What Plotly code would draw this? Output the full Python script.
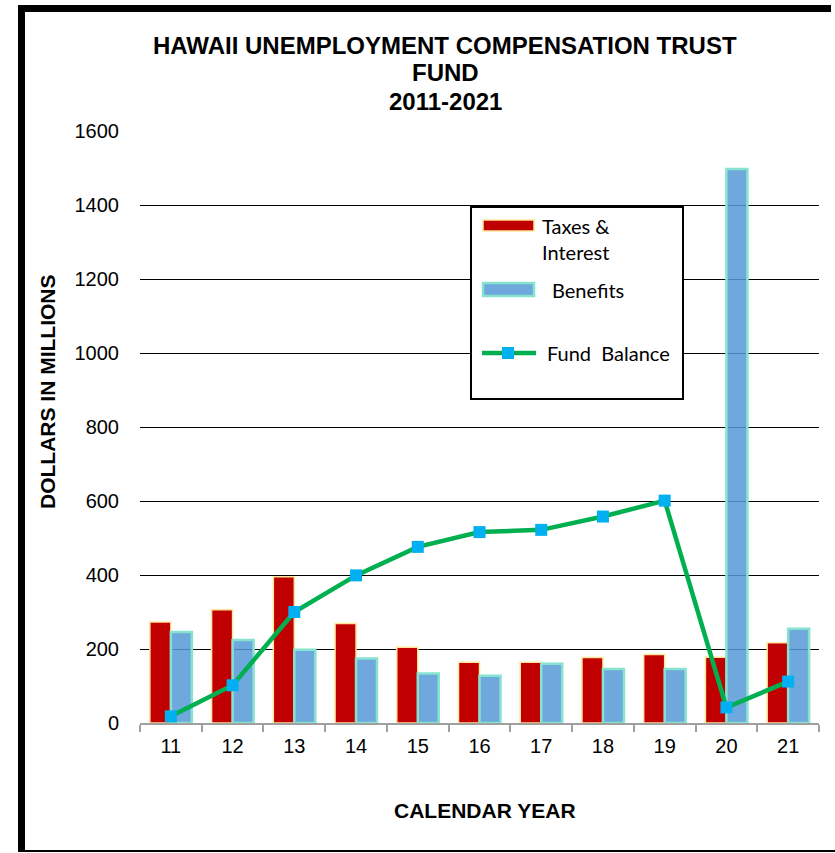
import plotly.graph_objects as go

# Calendar years (two-digit) and values in millions of dollars
years = ["11", "12", "13", "14", "15", "16", "17", "18", "19", "20", "21"]
taxes_interest = [273, 306, 395, 269, 205, 164, 164, 177, 185, 178, 217]
benefits = [246, 224, 198, 174, 134, 128, 160, 146, 146, 1497, 255]
fund_balance = [18, 102, 300, 399, 476, 516, 522, 558, 601, 42, 112]

y_ticks = [0, 200, 400, 600, 800, 1000, 1200, 1400, 1600]

W, H = 835, 853
M_L, M_R, M_T, M_B = 140, 16, 131, 130
PLOT_W = W - M_L - M_R
PLOT_H = H - M_T - M_B

RED = "#C00000"
RED_EDGE = "#FFE699"
BLUE = "rgba(86,153,214,0.85)"
BLUE_EDGE = "#86E3CF"
GREEN = "#00B050"
CYAN = "#00B0F0"


def px(x):
    """Page pixel x -> paper coordinate."""
    return (x - M_L) / PLOT_W


def py(y):
    """Page pixel y -> paper coordinate."""
    return (H - M_B - y) / PLOT_H


fig = go.Figure()

fig.add_trace(go.Bar(
    x=years, y=taxes_interest, name="Taxes & Interest",
    marker=dict(color=RED, line=dict(color=RED_EDGE, width=1.5)),
))
fig.add_trace(go.Bar(
    x=years, y=benefits, name="Benefits",
    marker=dict(color=BLUE, line=dict(color=BLUE_EDGE, width=2.5)),
))
fig.add_trace(go.Scatter(
    x=years, y=fund_balance, name="Fund  Balance", mode="lines+markers",
    line=dict(color=GREEN, width=4.5),
    marker=dict(symbol="square", size=12, color=CYAN),
))

shapes = []
# outer frame
shapes.append(dict(type="line", xref="paper", yref="paper",
                   x0=px(21.5), x1=px(21.5), y0=py(5), y1=py(852),
                   line=dict(color="black", width=7)))
shapes.append(dict(type="line", xref="paper", yref="paper",
                   x0=px(18), x1=px(831), y0=py(8.5), y1=py(8.5),
                   line=dict(color="black", width=7)))
shapes.append(dict(type="line", xref="paper", yref="paper",
                   x0=px(18), x1=px(835), y0=py(851), y1=py(851),
                   line=dict(color="black", width=2)))

# legend box
shapes.append(dict(type="rect", xref="paper", yref="paper",
                   x0=px(471), x1=px(683), y0=py(399), y1=py(207),
                   fillcolor="white", line=dict(color="black", width=2)))
shapes.append(dict(type="rect", xref="paper", yref="paper",
                   x0=px(483), x1=px(534), y0=py(231), y1=py(220),
                   fillcolor=RED, line=dict(color=RED_EDGE, width=1.5)))
shapes.append(dict(type="rect", xref="paper", yref="paper",
                   x0=px(483), x1=px(534), y0=py(296), y1=py(283),
                   fillcolor=BLUE, line=dict(color=BLUE_EDGE, width=2.5)))
shapes.append(dict(type="line", xref="paper", yref="paper",
                   x0=px(482), x1=px(536), y0=py(353), y1=py(353),
                   line=dict(color=GREEN, width=4.5)))
shapes.append(dict(type="rect", xref="paper", yref="paper",
                   x0=px(502), x1=px(514), y0=py(359), y1=py(347),
                   fillcolor=CYAN, line=dict(width=0)))

ann = []
title_lines = ["HAWAII UNEMPLOYMENT COMPENSATION TRUST", "FUND", "2011-2021"]
for line, yc in zip(title_lines, [46, 73, 101]):
    ann.append(dict(text=f"<b>{line}</b>", xref="paper", yref="paper",
                    x=px(445), y=py(yc), xanchor="center", yanchor="middle",
                    showarrow=False,
                    font=dict(family="Liberation Sans, Arial", size=24, color="black")))

ann.append(dict(text="<b>DOLLARS IN MILLIONS</b>", xref="paper", yref="paper",
                x=px(47), y=py(391), xanchor="center", yanchor="middle",
                textangle=-90, showarrow=False,
                font=dict(family="Liberation Sans, Arial", size=21, color="black")))
ann.append(dict(text="<b>CALENDAR YEAR</b>", xref="paper", yref="paper",
                x=px(485), y=py(810), xanchor="center", yanchor="middle",
                showarrow=False,
                font=dict(family="Liberation Sans, Arial", size=21, color="black")))

legend_font = dict(family="Lato, Noto Sans, sans-serif", size=20, color="black")
for text, x, yc in [("Taxes &", 540, 226), ("Interest", 540, 252),
                    ("Benefits", 550, 290), ("Fund  Balance", 545, 353)]:
    ann.append(dict(text=text, xref="paper", yref="paper", x=px(x), y=py(yc),
                    xanchor="left", yanchor="middle", showarrow=False,
                    font=legend_font))

fig.update_layout(
    width=W, height=H,
    margin=dict(l=M_L, r=M_R, t=M_T, b=M_B, pad=0),
    paper_bgcolor="white", plot_bgcolor="white",
    barmode="group", bargap=0.32, bargroupgap=0,
    showlegend=False,
    shapes=shapes, annotations=ann,
    font=dict(family="Liberation Sans, Arial", color="black"),
)
fig.update_xaxes(
    type="category", range=[-0.5, 10.5],
    showline=True, linecolor="#A0A0A0", linewidth=1.5,
    ticks="outside", tickson="boundaries", ticklen=7, tickcolor="#A0A0A0",
    tickwidth=1.5, ticklabelstandoff=4,
    tickfont=dict(size=20, color="black"),
    showgrid=False, zeroline=False,
)
fig.update_yaxes(
    range=[0, 1600], tickvals=y_ticks,
    showgrid=True, gridcolor="black", gridwidth=1,
    zeroline=False, showline=False, ticks="",
    ticklabelstandoff=20,
    tickfont=dict(size=20, color="black"),
)

fig.write_html("out.html")
